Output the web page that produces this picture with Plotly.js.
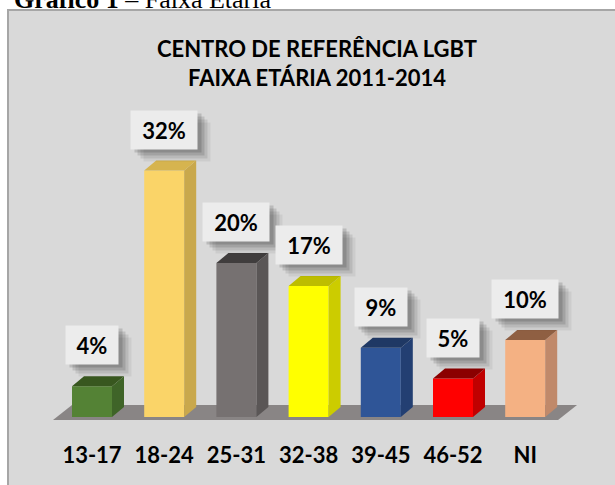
<!DOCTYPE html>
<html>
<head>
<meta charset="utf-8">
<script src="https://cdn.plot.ly/plotly-3.0.1.min.js"></script>
<style>html,body{margin:0;padding:0;background:#fff;}#chart{width:615px;height:485px;}</style>
</head>
<body>
<div id="chart"></div>
<script>
// ---- data ----
var categories = ['13-17', '18-24', '25-31', '32-38', '39-45', '46-52', 'NI'];
var values = [4, 32, 20, 17, 9, 5, 10];
var labels = ['4%', '32%', '20%', '17%', '9%', '5%', '10%'];
var frontColors = ['#548235', '#fad468', '#767171', '#ffff00', '#2f5597', '#ff0000', '#f4b183'];
var sideColors  = ['#3f6428', '#c9a84c', '#5a5656', '#cccc00', '#233f72', '#c00000', '#c0896a'];
var topColors   = ['#38571f', '#d6b44f', '#403d3d', '#bdbd00', '#1f3864', '#8b0000', '#8f5f42'];
var titleText = 'CENTRO DE REFERÊNCIA LGBT<br>FAIXA ETÁRIA 2011-2014';
var captionText = '<b>Gráfico 1</b> – Faixa Etária';

// ---- geometry (style) ----
var W = 615, H = 485, PH = 430;   // PH = plot area height in px
var barW = 0.554;
var pxPerX = 72.2, pxPerY = 7.7;
var depthX = 12 / pxPerX, depthY = 10 / pxPerY;
var idx = categories.map(function (_, i) { return i; });
function py(p) { return (PH - p) / PH; }   // pixel-from-top -> paper y

var shapes = [];
shapes.push({type: 'rect', xref: 'paper', yref: 'paper', x0: 8 / W, x1: 1.02, y0: py(H + 10), y1: py(10),
  fillcolor: '#d9d9d9', line: {color: '#a6a6a6', width: 2}, layer: 'below'});
var n = categories.length;
var fl = -0.54, fr = n - 1 + 0.455, fdx = 19 / pxPerX;
shapes.push({type: 'path', xref: 'x', yref: 'y', layer: 'below',
  path: 'M' + fl + ',' + (-3 / pxPerY) + ' L' + fr + ',' + (-3 / pxPerY) + ' L' + (fr + fdx) + ',' + (12 / pxPerY) + ' L' + (fl + fdx) + ',' + (12 / pxPerY) + ' Z',
  fillcolor: '#898585', line: {width: 0}});
values.forEach(function (v, i) {
  var r = i + barW / 2, l = i - barW / 2;
  shapes.push({type: 'path', xref: 'x', yref: 'y', layer: 'above',
    path: 'M' + r + ',0 L' + (r + depthX) + ',' + depthY + ' L' + (r + depthX) + ',' + (v + depthY) + ' L' + r + ',' + v + ' Z',
    fillcolor: sideColors[i], line: {width: 0}});
  shapes.push({type: 'path', xref: 'x', yref: 'y', layer: 'above',
    path: 'M' + l + ',' + v + ' L' + r + ',' + v + ' L' + (r + depthX) + ',' + (v + depthY) + ' L' + (l + depthX) + ',' + (v + depthY) + ' Z',
    fillcolor: topColors[i], line: {width: 0}});
});

var annotations = [];
annotations.push({xref: 'paper', yref: 'paper', x: 12 / W, y: py(16), xanchor: 'left', yanchor: 'bottom',
  text: captionText, showarrow: false, font: {family: 'Liberation Serif', size: 26, color: '#000'}});
var gap = 21;
var shadowSteps = [[13, 12, 'rgba(0,0,0,0.06)'], [10, 9, 'rgba(0,0,0,0.09)'], [7, 6, 'rgba(0,0,0,0.12)'], [4, 3, 'rgba(0,0,0,0.14)']];
values.forEach(function (v, i) {
  var bw = 14 * labels[i].length + 24, bh = 38;
  shadowSteps.forEach(function (s) {
    annotations.push({x: i, y: v, xref: 'x', yref: 'y', xanchor: 'center', yanchor: 'bottom',
      xshift: s[0], yshift: gap - s[1], showarrow: false, text: ' ', width: bw, height: bh,
      bgcolor: s[2], borderpad: 0, font: {size: 10}});
  });
  annotations.push({x: i, y: v, xref: 'x', yref: 'y', xanchor: 'center', yanchor: 'bottom',
    yshift: gap, showarrow: false, text: labels[i], width: bw, height: bh,
    bgcolor: '#ececec', borderpad: 0,
    font: {family: 'Lato', size: 22, color: '#000', weight: 700}});
});

var trace = {
  type: 'bar', x: idx, y: values, width: barW,
  marker: {color: frontColors, line: {width: 0}},
  hoverinfo: 'skip'
};

var yMin = -13 / pxPerY;
var layout = {
  width: W, height: H,
  margin: {l: 0, r: 0, t: 0, b: H - PH},
  paper_bgcolor: '#ffffff', plot_bgcolor: 'rgba(0,0,0,0)',
  showlegend: false,
  title: {text: titleText, x: 317 / W, xanchor: 'center', y: 1 - 57 / H, yanchor: 'middle',
    font: {family: 'Lato', size: 22, color: '#000', weight: 700}},
  xaxis: {range: [-92 / pxPerX, -92 / pxPerX + W / pxPerX], tickvals: idx, ticktext: categories,
    showgrid: false, zeroline: false, showline: false, ticks: '', ticklabelstandoff: 10,
    tickfont: {family: 'Lato', size: 22, color: '#000', weight: 700}, fixedrange: true},
  yaxis: {range: [yMin, yMin + PH / pxPerY], visible: false, showgrid: false, zeroline: false, fixedrange: true},
  shapes: shapes,
  annotations: annotations
};

Plotly.newPlot('chart', [trace], layout, {displayModeBar: false, staticPlot: true});
</script>
</body>
</html>
